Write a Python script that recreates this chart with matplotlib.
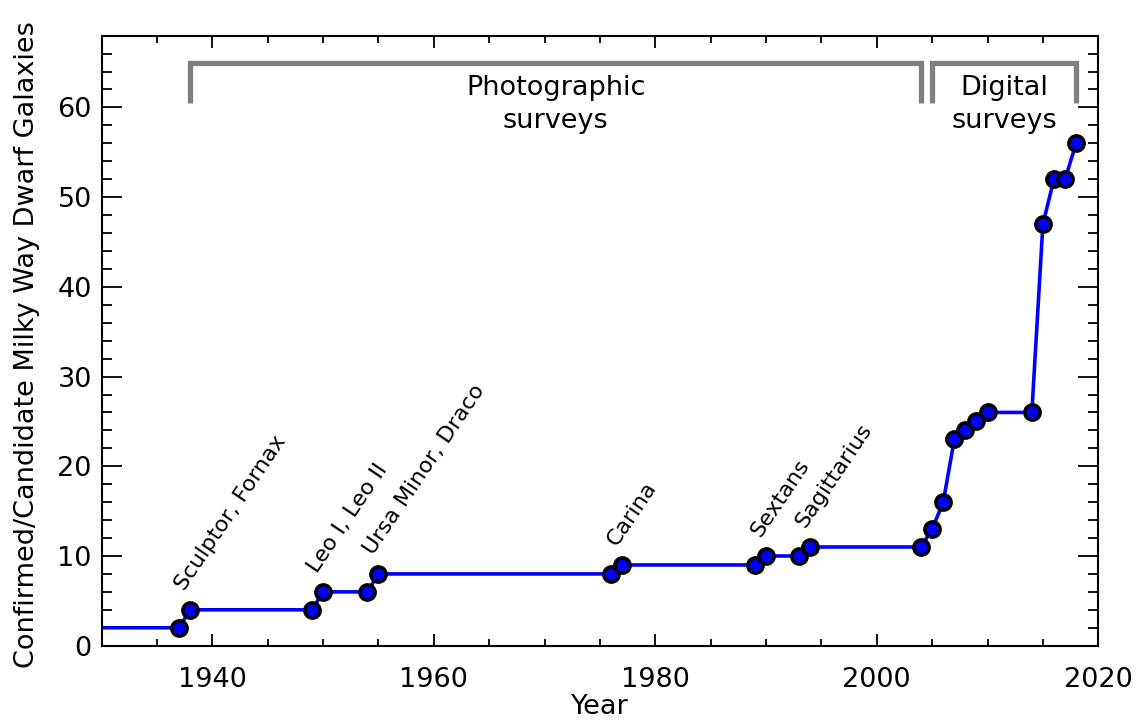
import numpy as np
import matplotlib
matplotlib.use("Agg")
import matplotlib.pyplot as plt
from matplotlib.ticker import MultipleLocator

# discovery years and cumulative number of known MW dwarf galaxies
years = [1937, 1938, 1949, 1950, 1954, 1955, 1976, 1977, 1989, 1990, 1993, 1994,
         2004, 2005, 2006, 2007, 2008, 2009, 2010, 2014, 2015, 2016, 2017, 2018]
counts = [2, 4, 4, 6, 6, 8, 8, 9, 9, 10, 10, 11,
          11, 13, 16, 23, 24, 25, 26, 26, 47, 52, 52, 56]
start_year = 1930

# named discoveries
names = ["Sculptor, Fornax", "Leo I, Leo II", "Ursa Minor, Draco",
         "Carina", "Sextans", "Sagittarius"]
name_years = [1937.5, 1949.5, 1954.5, 1976.5, 1989.5, 1993.5]
name_counts = [6, 8, 10, 11, 12, 13]

# survey eras
eras = ["Photographic\nsurveys", "Digital\nsurveys"]
era_start = [1938, 2005]
era_end = [2004, 2018]
bracket_low, bracket_high = 60.5, 65.0

plt.rcParams["font.family"] = ["DejaVu Sans"]
plt.rcParams["font.size"] = 19.5

fig = plt.figure(figsize=(11.36, 7.22), dpi=100)
ax = fig.add_axes([0.0894, 0.1057, 0.8774, 0.8449])

line_x = [start_year] + years
line_y = [counts[0]] + counts
ax.plot(line_x, line_y, color="#0000FF", lw=2.6, zorder=2)
ax.plot(years, counts, ls="none", marker="o", ms=11, mfc="#0000FF",
        mec="black", mew=2.5, zorder=3)

for name, x, y in zip(names, name_years, name_counts):
    ax.text(x, y, name, rotation=56, rotation_mode="anchor",
            ha="left", va="baseline", fontsize=16)

for label, x0, x1 in zip(eras, era_start, era_end):
    ax.plot([x0, x0, x1, x1], [bracket_low, bracket_high, bracket_high, bracket_low],
            color="#808080", lw=3.8, solid_joinstyle="miter", solid_capstyle="butt")
    ax.text((x0 + x1) / 2, 63.6, label, ha="center", va="top",
            linespacing=1.35)

ax.set_xlim(1930, 2020)
ax.set_ylim(0, 68)
ax.xaxis.set_major_locator(MultipleLocator(20))
ax.xaxis.set_minor_locator(MultipleLocator(5))
ax.yaxis.set_major_locator(MultipleLocator(10))
ax.yaxis.set_minor_locator(MultipleLocator(2))
ax.tick_params(which="both", direction="in", top=True, right=True, width=1.3)
ax.tick_params(axis="x", which="major", length=8.8, pad=15)
ax.tick_params(axis="x", which="minor", length=4.7)
ax.tick_params(axis="y", which="major", length=14.4, pad=7)
ax.tick_params(axis="y", which="minor", length=7.2)
for s in ax.spines.values():
    s.set_linewidth(1.5)

ax.set_xlabel("Year")
ax.set_ylabel("Confirmed/Candidate Milky Way Dwarf Galaxies")
ax.xaxis.set_label_coords(0.5, -0.079)
ax.yaxis.set_label_coords(-0.0622, 0.493)

fig.canvas.draw()
ax.get_yticklabels()[0].set_va("baseline")

fig.savefig("out.png", dpi=100)
